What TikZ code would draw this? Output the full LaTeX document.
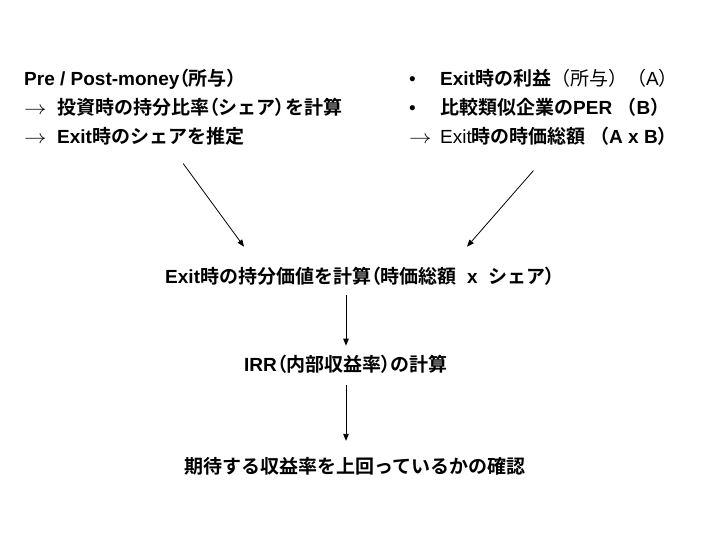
\documentclass[tikz,border=0pt]{standalone}
\usepackage{fontspec}
\usepackage{graphicx}
\setmainfont{Liberation Sans}
\newfontfamily\jpf{Noto Sans CJK JP}[BoldFont=* Bold]
\newfontfamily\jpp{Noto Sans CJK JP}[BoldFont=* Bold, RawFeature=+palt]
\usetikzlibrary{arrows.meta,positioning}
\newcommand{\ja}[1]{{\jpf #1}}
\newcommand{\lp}{{\jpp （}}
\newcommand{\rp}{{\jpp ）}}
\newcommand{\thinarr}{\scalebox{1.3}[1.1]{$\rightarrow$}}
\newcommand{\rarr}{\makebox[33pt][l]{\thinarr}}
\newcommand{\dotitem}{\makebox[31pt][l]{\mdseries •}}
\tikzset{
  every picture/.style={font=\bfseries\fontsize{19}{29}\selectfont, text=black},
  textblock/.style={align=left, inner sep=0pt},
  steptext/.style={inner sep=0pt},
  flow/.style={-{Triangle[length=7pt,width=5.5pt]}, draw=black, line width=0.8pt}
}
\begin{document}
\begin{tikzpicture}[x=1pt,y=-1pt]
  \useasboundingbox (0,0) rectangle (720,540);
  % starting data
  \node[textblock, anchor=north west] (given) at (24,69)
    {Pre / Post-money\lp\ja{所与}\rp\\
     \rarr\ja{投資時の持分比率}\lp\ja{シェア}\rp\ja{を計算}\\
     \rarr Exit\ja{時のシェアを推定}};
  \node[textblock, anchor=north west] (earn) at (409,69)
    {\dotitem Exit\ja{時の利益\mdseries（所与）（}\mdseries A\ja{）}\\
     \dotitem\ja{比較類似企業の}PER \ja{（}B\ja{）}\\
     \makebox[31pt][l]{\thinarr}{\mdseries Exit}\ja{時の時価総額\ （}A x B\ja{）}};
  % steps
  \node[steptext] (share) at (360,276)
    {Exit\ja{時の持分価値を計算}\lp\ja{時価総額}\ \ x\ \ \ja{シェア}\rp};
  \node[steptext] (irr) at (346,364) {IRR\lp\ja{内部収益率}\rp\ja{の計算}};
  \node[steptext] (check) at (355,466) {\ja{期待する収益率を上回っているかの確認}};
  \coordinate[below=18pt of given.south] (gout);
  \coordinate[above left=20pt and 116pt of share.north] (sl);
  \coordinate[below=25pt of earn.south, xshift=-10pt] (eout);
  \coordinate[above right=20pt and 107pt of share.north] (sr);
  \draw[flow] (gout) -- (sl);
  \draw[flow] (eout) -- (sr);
  \draw[flow, shorten <=10pt, shorten >=9pt] (share.south -| irr.north) -- (irr.north);
  \draw[flow, shorten <=12pt, shorten >=16pt] (irr.south) -- (irr.south |- check.north);
\end{tikzpicture}
\end{document}
